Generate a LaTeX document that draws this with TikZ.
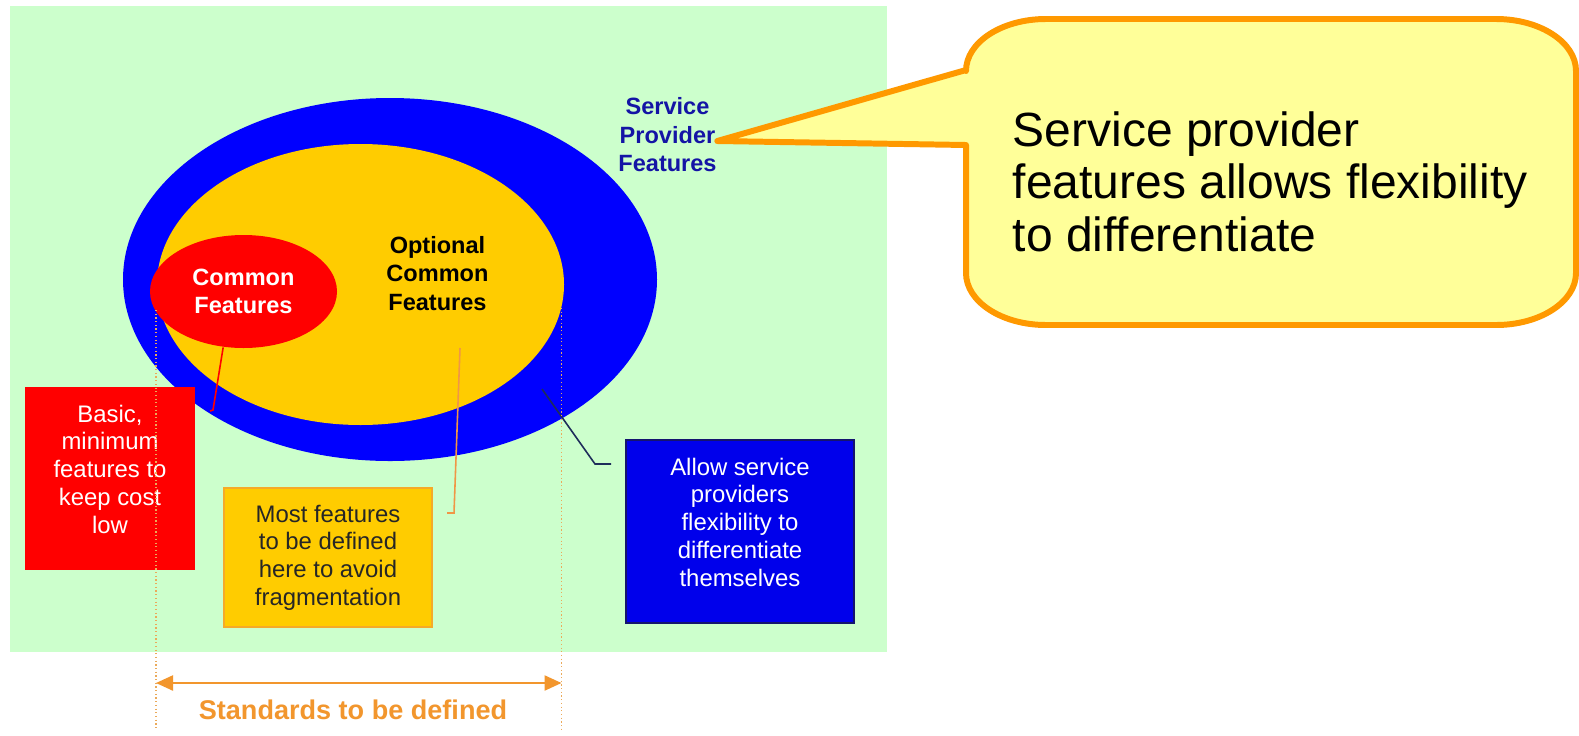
\documentclass[tikz,border=0pt]{standalone}
\usepackage{fontspec}
\setmainfont{Liberation Sans}
\usetikzlibrary{shapes.geometric,arrows.meta}

\definecolor{bggreen}{RGB}{204,255,204}
\definecolor{ringblue}{RGB}{0,0,255}
\definecolor{optyellow}{RGB}{255,204,0}
\definecolor{comred}{RGB}{255,0,0}
\definecolor{spfblue}{RGB}{20,20,165}
\definecolor{boxblue}{RGB}{0,0,235}
\definecolor{boxnavy}{RGB}{20,20,110}
\definecolor{boxorange}{RGB}{245,170,40}
\definecolor{leaderorange}{RGB}{240,150,70}
\definecolor{leadernavy}{RGB}{30,45,90}
\definecolor{dimorange}{RGB}{242,150,45}
\definecolor{guidecol}{RGB}{235,170,90}
\definecolor{calloutfill}{RGB}{255,255,153}
\definecolor{calloutedge}{RGB}{255,153,0}

\begin{document}
\begin{tikzpicture}[
    ring/.style={ellipse,inner sep=0pt},
    featlabel/.style={align=center,inner sep=0pt,font=\bfseries\fontsize{6.7}{8.1}\selectfont},
    infobox/.style={rectangle,align=center,inner sep=0pt,font=\fontsize{6.8}{7.9}\selectfont},
    leader/.style={line width=0.45pt},
    guide/.style={guidecol,line width=0.35pt,dash pattern=on 0.35pt off 0.7pt},
    callout/.style={fill=calloutfill,draw=calloutedge,line width=1.7pt,line join=round}
  ]
  \useasboundingbox (0,0) rectangle (15.79,7.35);
  \fill[white] (0,0) rectangle (15.79,7.35);
  \fill[bggreen] (0.10,0.83) rectangle (8.87,7.29);
  % Nested feature sets
  \node[ring,fill=ringblue,minimum width=5.34cm,minimum height=3.63cm] (spf) at (3.90,4.555) {};
  \node[ring,fill=optyellow,minimum width=4.07cm,minimum height=2.81cm] (ocf) at (3.605,4.505) {};
  \node[ring,fill=comred,minimum width=1.87cm,minimum height=1.13cm,featlabel,text=white] (cf) at (2.435,4.435) {Common\\Features};
  \node[featlabel]               (ocflabel) at (4.375,4.615) {Optional\\Common\\Features};
  \node[featlabel,text=spfblue]  (spflabel) at (6.675,6.00)  {Service\\Provider\\Features};
  % Explanation boxes
  \node[infobox,fill=comred,minimum width=1.70cm,minimum height=1.83cm] (basic) at (1.10,2.565) {};
  \node[infobox,text=white] (basictext) at (1.10,2.66)
        {Basic,\\minimum\\features to\\keep cost\\low};
  \node[infobox,fill=optyellow,draw=boxorange,line width=0.5pt,text={black!85},minimum width=2.08cm,minimum height=1.39cm] (most) at (3.28,1.775)
        {Most features\\to be defined\\here to avoid\\fragmentation};
  \node[infobox,fill=boxblue,draw=boxnavy,line width=0.5pt,minimum width=2.28cm,minimum height=1.83cm] (allow) at (7.40,2.035) {};
  \node[infobox,text=white] (allowtext) at (7.40,2.13)
        {Allow service\\providers\\flexibility to\\differentiate\\themselves};
  % Leader lines
  \coordinate (cf foot)    at (2.10,3.24);
  \draw[leader,comred] (cf.250) -- (2.13,3.25) -- (cf foot);
  \coordinate (ocf in)     at (4.60,3.87);
  \coordinate (most hook)  at (4.47,2.22);
  \draw[leader,leaderorange] (ocf in) -- (4.54,2.22) -- (most hook);
  \coordinate (spf in)     at (5.42,3.46);
  \coordinate (allow hook) at (6.11,2.71);
  \draw[leader,leadernavy] (spf in) -- (5.95,2.71) -- (allow hook);
  % Standards span
  \coordinate (std left)  at (1.56,0.52);
  \coordinate (std right) at (5.615,0.52);
  \draw[guide] (1.56,4.25) -- (1.56,0.05);
  \draw[guide] (5.615,4.27) -- (5.615,0.05);
  \draw[{Triangle[length=0.17cm,width=0.15cm]}-{Triangle[length=0.17cm,width=0.15cm]},dimorange,line width=0.65pt] (std left) -- (std right);
  \node[text=dimorange,font=\bfseries\fontsize{7.7}{9}\selectfont] (std) at (3.53,0.25) {Standards to be defined};
  % Callout
  \draw[callout] ([yshift=-0.06cm]spflabel.east) -- (9.66,6.65) -- (9.66,6.64)
        arc[start angle=180,end angle=90,x radius=0.8,y radius=0.52] -- (14.96,7.16)
        arc[start angle=90,end angle=0,x radius=0.8,y radius=0.52] -- (15.76,4.62)
        arc[start angle=0,end angle=-90,x radius=0.8,y radius=0.52] -- (10.46,4.10)
        arc[start angle=270,end angle=180,x radius=0.8,y radius=0.52] -- (9.66,5.90) -- cycle;
  \node[align=left,anchor=north west,inner sep=0pt,font=\fontsize{13.66}{14.9}\selectfont] (note) at (10.12,6.24)
        {Service provider\\features allows flexibility\\to differentiate};
\end{tikzpicture}
\end{document}
